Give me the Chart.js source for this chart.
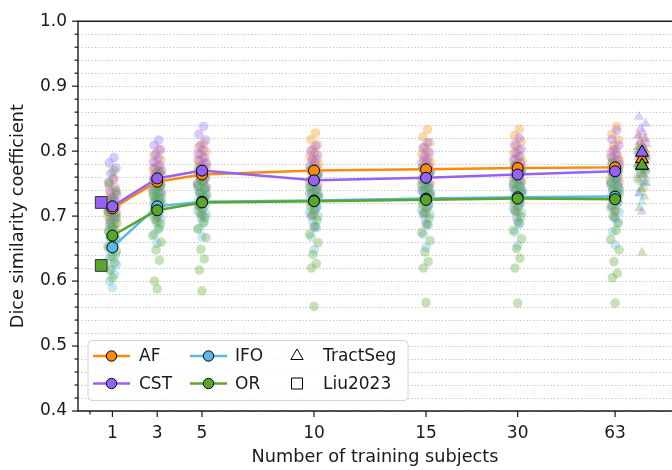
<!DOCTYPE html>
<html>
<head>
<meta charset="utf-8">
<script src="https://cdn.jsdelivr.net/npm/chart.js@4.4.1/dist/chart.umd.min.js"></script>
<style>
  html, body { margin: 0; padding: 0; background: #ffffff; }
  #wrap { width: 672px; height: 470px; }
</style>
</head>
<body>
<div id="wrap"><canvas id="c" width="672" height="470"></canvas></div>
<script>
// ---------------- DATA ----------------
const subjectLabels = ['1', '3', '5', '10', '15', '30', '63'];
const seriesNames = ['AF', 'CST', 'IFO', 'OR'];

// mean Dice per training-set size
const AF_mean  = [0.712, 0.753, 0.764, 0.770, 0.772, 0.774, 0.775];
const CST_mean = [0.715, 0.758, 0.770, 0.755, 0.759, 0.764, 0.769];
const IFO_mean = [0.652, 0.715, 0.722, 0.724, 0.727, 0.729, 0.730];
const OR_mean  = [0.670, 0.709, 0.721, 0.723, 0.725, 0.727, 0.726];

// TractSeg means (AF, CST, IFO, OR) and Liu2023 means
const TractSeg_mean = [0.788, 0.798, 0.778, 0.778];
const Liu2023_mean  = [null, 0.721, null, 0.624];

// per-subject values (one list per training-set size)
const AF_points = [
  [0.672,0.681,0.688,0.692,0.697,0.700,0.703,0.705,0.707,0.709,0.711,0.713,0.715,0.717,0.719,0.722,0.725,0.728,0.733,0.739,0.746,0.757],
  [0.692,0.708,0.719,0.727,0.734,0.739,0.743,0.746,0.749,0.752,0.755,0.757,0.760,0.763,0.766,0.769,0.772,0.776,0.781,0.787,0.794,0.802],
  [0.702,0.718,0.729,0.737,0.744,0.749,0.753,0.757,0.760,0.763,0.766,0.769,0.772,0.775,0.778,0.782,0.786,0.790,0.795,0.800,0.806,0.812],
  [0.703,0.721,0.733,0.741,0.748,0.753,0.758,0.762,0.765,0.768,0.771,0.774,0.777,0.780,0.784,0.788,0.792,0.797,0.803,0.810,0.818,0.828],
  [0.705,0.722,0.735,0.743,0.750,0.755,0.760,0.764,0.767,0.770,0.773,0.776,0.779,0.782,0.786,0.790,0.795,0.800,0.806,0.813,0.822,0.833],
  [0.706,0.724,0.737,0.745,0.752,0.757,0.762,0.766,0.769,0.772,0.775,0.778,0.781,0.784,0.788,0.792,0.797,0.802,0.808,0.815,0.824,0.834],
  [0.707,0.725,0.738,0.746,0.753,0.758,0.763,0.767,0.770,0.773,0.776,0.779,0.782,0.785,0.789,0.793,0.798,0.803,0.809,0.817,0.826,0.838]
];
const CST_points = [
  [0.678,0.688,0.695,0.700,0.704,0.707,0.710,0.713,0.716,0.719,0.722,0.725,0.729,0.733,0.738,0.744,0.751,0.758,0.766,0.774,0.782,0.790],
  [0.698,0.712,0.722,0.730,0.737,0.742,0.747,0.751,0.754,0.757,0.760,0.763,0.766,0.770,0.774,0.778,0.783,0.789,0.795,0.802,0.809,0.817],
  [0.701,0.716,0.728,0.737,0.744,0.750,0.755,0.759,0.763,0.767,0.770,0.773,0.777,0.781,0.785,0.790,0.796,0.802,0.809,0.817,0.826,0.838],
  [0.683,0.700,0.712,0.721,0.729,0.735,0.740,0.745,0.749,0.752,0.755,0.758,0.761,0.765,0.769,0.773,0.777,0.782,0.788,0.794,0.800,0.808],
  [0.688,0.704,0.716,0.725,0.733,0.739,0.744,0.749,0.753,0.756,0.759,0.762,0.765,0.769,0.773,0.777,0.781,0.786,0.792,0.798,0.805,0.813],
  [0.692,0.709,0.721,0.730,0.738,0.744,0.749,0.754,0.758,0.761,0.764,0.767,0.770,0.774,0.778,0.782,0.786,0.791,0.797,0.803,0.810,0.820],
  [0.697,0.714,0.726,0.735,0.743,0.749,0.754,0.759,0.763,0.766,0.769,0.772,0.775,0.779,0.783,0.787,0.791,0.796,0.802,0.809,0.818,0.832]
];
const IFO_points = [
  [0.590,0.600,0.610,0.618,0.625,0.631,0.636,0.641,0.645,0.649,0.652,0.655,0.659,0.663,0.667,0.672,0.677,0.683,0.690,0.698,0.708,0.720],
  [0.658,0.672,0.682,0.690,0.696,0.701,0.705,0.709,0.712,0.715,0.718,0.721,0.724,0.727,0.730,0.733,0.737,0.741,0.745,0.750,0.756],
  [0.668,0.681,0.690,0.697,0.703,0.708,0.712,0.716,0.719,0.722,0.725,0.728,0.731,0.734,0.737,0.741,0.745,0.749,0.754,0.760],
  [0.648,0.668,0.682,0.692,0.700,0.706,0.711,0.715,0.719,0.722,0.725,0.728,0.731,0.734,0.737,0.741,0.745,0.750,0.755,0.762],
  [0.652,0.672,0.686,0.696,0.703,0.709,0.714,0.718,0.722,0.725,0.728,0.731,0.734,0.737,0.740,0.744,0.748,0.753,0.758,0.765],
  [0.655,0.675,0.688,0.698,0.705,0.711,0.716,0.720,0.724,0.727,0.730,0.733,0.736,0.739,0.742,0.746,0.750,0.755,0.760,0.767],
  [0.656,0.676,0.689,0.699,0.706,0.712,0.717,0.721,0.725,0.728,0.731,0.734,0.737,0.740,0.743,0.747,0.751,0.756,0.761,0.768]
];
const OR_points = [
  [0.605,0.617,0.628,0.638,0.646,0.653,0.659,0.664,0.668,0.672,0.676,0.680,0.684,0.689,0.694,0.700,0.707,0.715,0.725,0.737,0.752,0.770],
  [0.588,0.600,0.632,0.648,0.660,0.670,0.680,0.688,0.695,0.701,0.706,0.711,0.715,0.719,0.723,0.727,0.731,0.736,0.741,0.747,0.755,0.768],
  [0.585,0.617,0.634,0.649,0.667,0.680,0.690,0.698,0.705,0.711,0.716,0.721,0.726,0.731,0.736,0.741,0.746,0.752,0.758,0.765,0.773],
  [0.561,0.620,0.627,0.641,0.659,0.672,0.684,0.694,0.702,0.709,0.715,0.720,0.725,0.730,0.735,0.740,0.745,0.751,0.757,0.764,0.772],
  [0.567,0.620,0.630,0.645,0.662,0.675,0.687,0.697,0.705,0.712,0.718,0.723,0.728,0.733,0.738,0.743,0.748,0.754,0.760,0.767,0.775],
  [0.566,0.620,0.635,0.650,0.665,0.678,0.689,0.699,0.707,0.714,0.720,0.725,0.730,0.735,0.740,0.745,0.750,0.756,0.762,0.769,0.777],
  [0.566,0.605,0.612,0.630,0.648,0.664,0.678,0.690,0.700,0.709,0.716,0.722,0.728,0.734,0.740,0.746,0.752,0.758,0.765,0.773,0.782]
];
// TractSeg per-subject values
const AF_tractseg  = [0.742,0.755,0.763,0.769,0.774,0.778,0.781,0.784,0.787,0.789,0.791,0.793,0.795,0.797,0.800,0.803,0.806,0.810,0.814,0.819,0.824];
const CST_tractseg = [0.707,0.735,0.752,0.764,0.773,0.780,0.786,0.791,0.795,0.798,0.801,0.804,0.807,0.811,0.815,0.819,0.824,0.829,0.835,0.842,0.853];
const IFO_tractseg = [0.722,0.735,0.745,0.752,0.758,0.763,0.767,0.771,0.774,0.777,0.780,0.783,0.786,0.789,0.792,0.795,0.799,0.803];
const OR_tractseg  = [0.644,0.712,0.730,0.742,0.751,0.758,0.764,0.769,0.773,0.777,0.781,0.785,0.789,0.793,0.797,0.801,0.806];

// ---------------- LAYOUT / STYLE ----------------
const X_POS = [1, 3, 5, 10, 15, 19.09, 23.44];   // axis position of each training size
const X_TRACTSEG = 24.64, X_LIU = 0.5;
const X_MIN = -0.536, X_MAX = 25.98;
const JITTER = [0, -0.12, 0.1, -0.05, 0.18, -0.2, 0.05, 0.14, -0.09, 0.02, -0.16, 0.09, -0.02, 0.2, -0.11, 0.12, -0.18, 0.04, -0.07, 0.16, -0.14, 0.07];
const COLORS = ['#fa8b0c', '#9463f5', '#5cb8e6', '#58a62b'];
const FONT = 'DejaVu Sans';
const TEXT = '#1a1a1a';

function rgba(hex, a) {
  const n = parseInt(hex.slice(1), 16);
  return `rgba(${(n >> 16) & 255},${(n >> 8) & 255},${n & 255},${a})`;
}

const means = [AF_mean, CST_mean, IFO_mean, OR_mean];
const points = [AF_points, CST_points, IFO_points, OR_points];
const tractPts = [AF_tractseg, CST_tractseg, IFO_tractseg, OR_tractseg];

const datasets = [];
// cloud of per-subject points (behind)
points.forEach((cols, s) => {
  const data = [];
  cols.forEach((vals, c) => vals.forEach((v, i) => data.push({ x: X_POS[c] + JITTER[i % JITTER.length], y: v })));
  datasets.push({ type: 'scatter', data, order: 100 - s, pointRadius: 4.8, pointStyle: 'circle',
    backgroundColor: rgba(COLORS[s], 0.34), borderWidth: 0, pointBorderWidth: 0 });
  const tdata = tractPts[s].map((v, i) => ({ x: X_TRACTSEG + JITTER[i % JITTER.length], y: v }));
  datasets.push({ type: 'scatter', data: tdata, order: 100 - s, pointRadius: 6, pointStyle: 'triangle',
    backgroundColor: rgba(COLORS[s], 0.32), borderWidth: 0, pointBorderWidth: 0 });
});
// mean lines
means.forEach((m, s) => {
  datasets.push({ type: 'line', data: m.map((v, c) => ({ x: X_POS[c], y: v })), order: 50 - s,
    borderColor: COLORS[s], borderWidth: 2.5, pointRadius: 5.5, pointBackgroundColor: COLORS[s],
    pointBorderColor: '#000', pointBorderWidth: 1, tension: 0, fill: false });
  datasets.push({ type: 'scatter', data: [{ x: X_TRACTSEG, y: TractSeg_mean[s] }], order: 50 - s,
    pointStyle: 'triangle', pointRadius: 7.5, backgroundColor: COLORS[s], borderColor: '#000', borderWidth: 1 });
  if (Liu2023_mean[s] !== null) {
    datasets.push({ type: 'scatter', data: [{ x: X_LIU, y: Liu2023_mean[s] }], order: 50 - s,
      pointStyle: 'rect', pointRadius: 8.3, backgroundColor: COLORS[s], borderColor: '#333', borderWidth: 1 });
  }
});

const X_TICKS = [0].concat(X_POS);
const X_TICK_LABELS = [''].concat(subjectLabels);
const Y_TICKS = [];
for (let k = 0; k <= 30; k++) Y_TICKS.push(+(0.4 + k * 0.02).toFixed(2));

const decor = {
  id: 'decor',
  beforeDatasetsDraw(chart) {
    const { ctx, chartArea: a, scales: { y } } = chart;
    ctx.save();
    ctx.strokeStyle = '#c2c2c2'; ctx.lineWidth = 1; ctx.setLineDash([1.3, 2.1]);
    Y_TICKS.forEach(v => {
      const py = Math.round(y.getPixelForValue(v)) + 0.5;
      ctx.beginPath(); ctx.moveTo(a.left, py); ctx.lineTo(a.right, py); ctx.stroke();
    });
    ctx.restore();
  },
  afterDatasetsDraw(chart) {
    const { ctx, chartArea: a, scales: { x, y } } = chart;
    ctx.save();
    // spines
    ctx.strokeStyle = '#1a1a1a'; ctx.lineWidth = 1.4;
    ctx.beginPath();
    ctx.moveTo(a.right + 2, a.top); ctx.lineTo(a.left, a.top); ctx.lineTo(a.left, a.bottom); ctx.lineTo(a.right + 2, a.bottom);
    ctx.stroke();
    // y ticks
    ctx.lineWidth = 1.2;
    Y_TICKS.forEach((v, k) => {
      const py = y.getPixelForValue(v);
      const len = (k % 5 === 0) ? 6 : 3.5;
      ctx.beginPath(); ctx.moveTo(a.left, py); ctx.lineTo(a.left - len, py); ctx.stroke();
    });
    // x ticks
    X_TICKS.forEach((v, k) => {
      const px = x.getPixelForValue(v);
      const len = k === 0 ? 3.5 : 6;
      ctx.beginPath(); ctx.moveTo(px, a.bottom); ctx.lineTo(px, a.bottom + len); ctx.stroke();
    });
    // legend
    const bx = 88, by = 340.5, bw = 320, bh = 60;
    ctx.beginPath();
    ctx.roundRect(bx, by, bw, bh, 4);
    ctx.fillStyle = 'rgba(255,255,255,0.8)'; ctx.fill();
    ctx.strokeStyle = '#d2d2d2'; ctx.lineWidth = 1; ctx.stroke();
    const rows = [356, 383.5];
    const cols = [{ x0: 93, x1: 130, mx: 111.5, tx: 139 }, { x0: 190, x1: 227, mx: 208.5, tx: 235 }];
    ctx.font = `17px "${FONT}"`; ctx.textBaseline = 'middle'; ctx.textAlign = 'left';
    seriesNames.forEach((name, s) => {
      const col = cols[Math.floor(s / 2)], ry = rows[s % 2];
      ctx.strokeStyle = COLORS[s]; ctx.lineWidth = 2.5;
      ctx.beginPath(); ctx.moveTo(col.x0, ry); ctx.lineTo(col.x1, ry); ctx.stroke();
      ctx.beginPath(); ctx.arc(col.mx, ry, 5.2, 0, Math.PI * 2);
      ctx.fillStyle = COLORS[s]; ctx.fill(); ctx.strokeStyle = '#000'; ctx.lineWidth = 1; ctx.stroke();
      ctx.fillStyle = TEXT; ctx.fillText(name, col.tx, ry + 1);
    });
    // TractSeg / Liu2023 markers
    ctx.strokeStyle = '#000'; ctx.lineWidth = 1; ctx.fillStyle = '#fff';
    const tx = 297, ty = rows[0];
    ctx.beginPath();
    ctx.moveTo(tx, ty - 7); ctx.lineTo(tx + 6.1, ty + 3.5); ctx.lineTo(tx - 6.1, ty + 3.5); ctx.closePath();
    ctx.fill(); ctx.stroke();
    ctx.beginPath(); ctx.rect(tx - 5.5, rows[1] - 5.5, 11, 11); ctx.fill(); ctx.stroke();
    ctx.fillStyle = TEXT;
    ctx.fillText('TractSeg', 323, rows[0] + 1);
    ctx.fillText('Liu2023', 323, rows[1] + 1);
    ctx.restore();
  }
};

new Chart(document.getElementById('c'), {
  data: { datasets },
  options: {
    responsive: false, animation: false,
    layout: { autoPadding: false, padding: { left: 0, top: 15, right: 0, bottom: 0 } },
    plugins: { legend: { display: false }, tooltip: { enabled: false } },
    scales: {
      x: {
        type: 'linear', min: X_MIN, max: X_MAX, bounds: 'data',
        grid: { display: false, drawTicks: false, tickLength: 0 },
        border: { display: false },
        afterBuildTicks: s => { s.ticks = X_TICKS.map(v => ({ value: v })); },
        afterFit: s => { s.height = 59; s.paddingLeft = 0; s.paddingRight = 0; },
        ticks: { autoSkip: false, maxRotation: 0, padding: 12, color: TEXT, font: { family: FONT, size: 17 },
          callback: (v, i) => X_TICK_LABELS[i] },
        title: { display: true, text: 'Number of training subjects', color: TEXT,
          font: { family: FONT, size: 17.7 }, padding: { top: 0, bottom: 2 } }
      },
      y: {
        type: 'linear', min: 0.4, max: 1.0, bounds: 'data',
        grid: { display: false, drawTicks: false, tickLength: 0 },
        border: { display: false },
        afterBuildTicks: s => { s.ticks = Y_TICKS.map(v => ({ value: v })); },
        afterFit: s => { s.width = 78; },
        ticks: { autoSkip: false, padding: 11, color: TEXT, font: { family: FONT, size: 17 },
          callback: (v, i) => (i % 5 === 0 ? v.toFixed(1) : '') },
        title: { display: true, text: 'Dice similarity coefficient', color: TEXT,
          font: { family: FONT, size: 17.7 }, padding: { top: 7.5, bottom: 0 } }
      }
    }
  },
  plugins: [decor]
});
</script>
</body>
</html>
